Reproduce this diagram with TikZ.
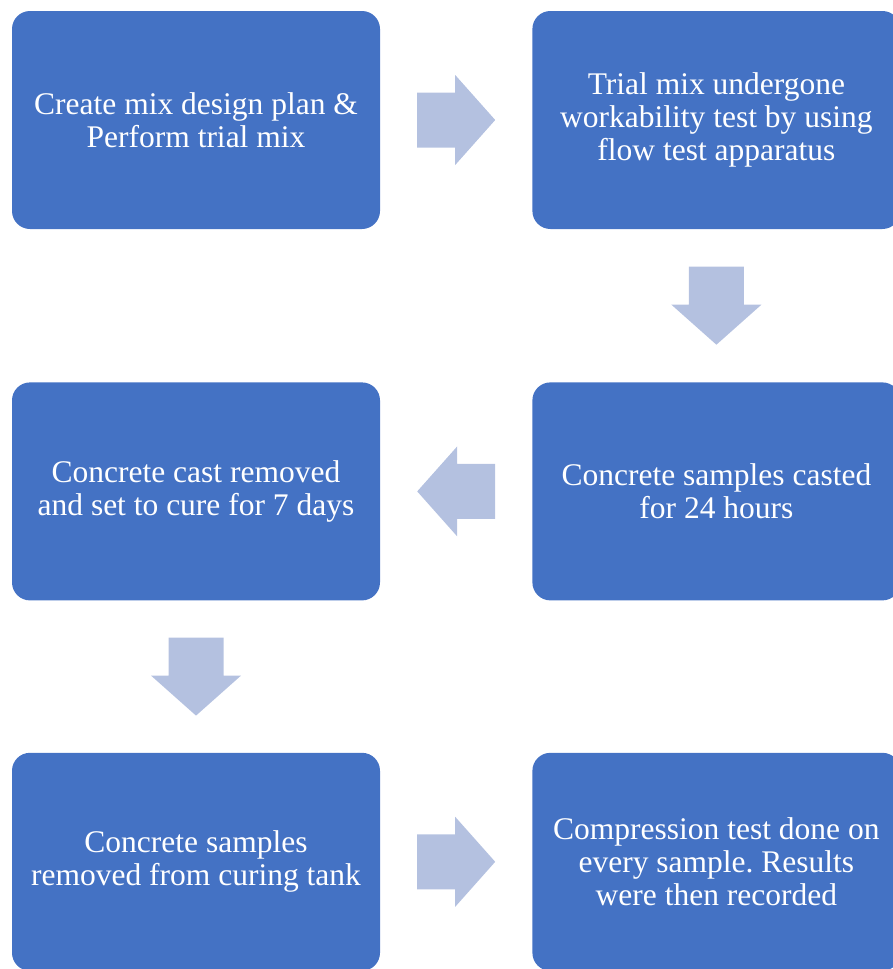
\documentclass[tikz,border=0pt]{standalone}
\usepackage{fontspec}
\setmainfont{Liberation Serif}
\usetikzlibrary{positioning,calc}
\definecolor{boxblue}{HTML}{4472C4}
\definecolor{arrowblue}{HTML}{B4C1E0}
\frenchspacing
\tikzset{
	flowarrow/.pic={\fill[arrowblue] (-39,-27.5)--(-1,-27.5)--(-1,-45)--(39,0)--(-1,45)--(-1,27.5)--(-39,27.5)--cycle;}
}
\begin{document}
\begin{tikzpicture}[x=1pt, y=1pt, node distance=152pt and 152pt,
	stage/.style={fill=boxblue, text=white, rounded corners=18pt, minimum width=368pt, minimum height=218pt, align=center, inner sep=0pt, font=\fontsize{31.5}{33}\selectfont}]
		\useasboundingbox (0,0) rectangle (893,-969);
		\clip (0,0) rectangle (893,-969);
		\node[stage] (plan) at (196,-120) {Create mix design plan \&\\Perform trial mix};
		\node[stage, right=of plan] (workability) {Trial mix undergone\\workability test by using\\flow test apparatus};
		\node[stage, below=153pt of workability] (casting) {Concrete samples casted\\for 24 hours};
		\node[stage, left=of casting] (curing) {Concrete cast removed\\and set to cure for 7 days};
		\node[stage, below=of curing] (removal) {Concrete samples\\removed from curing tank};
		\node[stage, right=of removal] (compression) {Compression test done on\\every sample. Results\\were then recorded};
		\foreach \a/\b/\r in {plan/workability/0, workability/casting/-90, casting/curing/180, curing/removal/-90, removal/compression/0}
			\pic[rotate=\r] at ($(\a)!0.5!(\b)$) {flowarrow};
		\end{tikzpicture}
\end{document}
